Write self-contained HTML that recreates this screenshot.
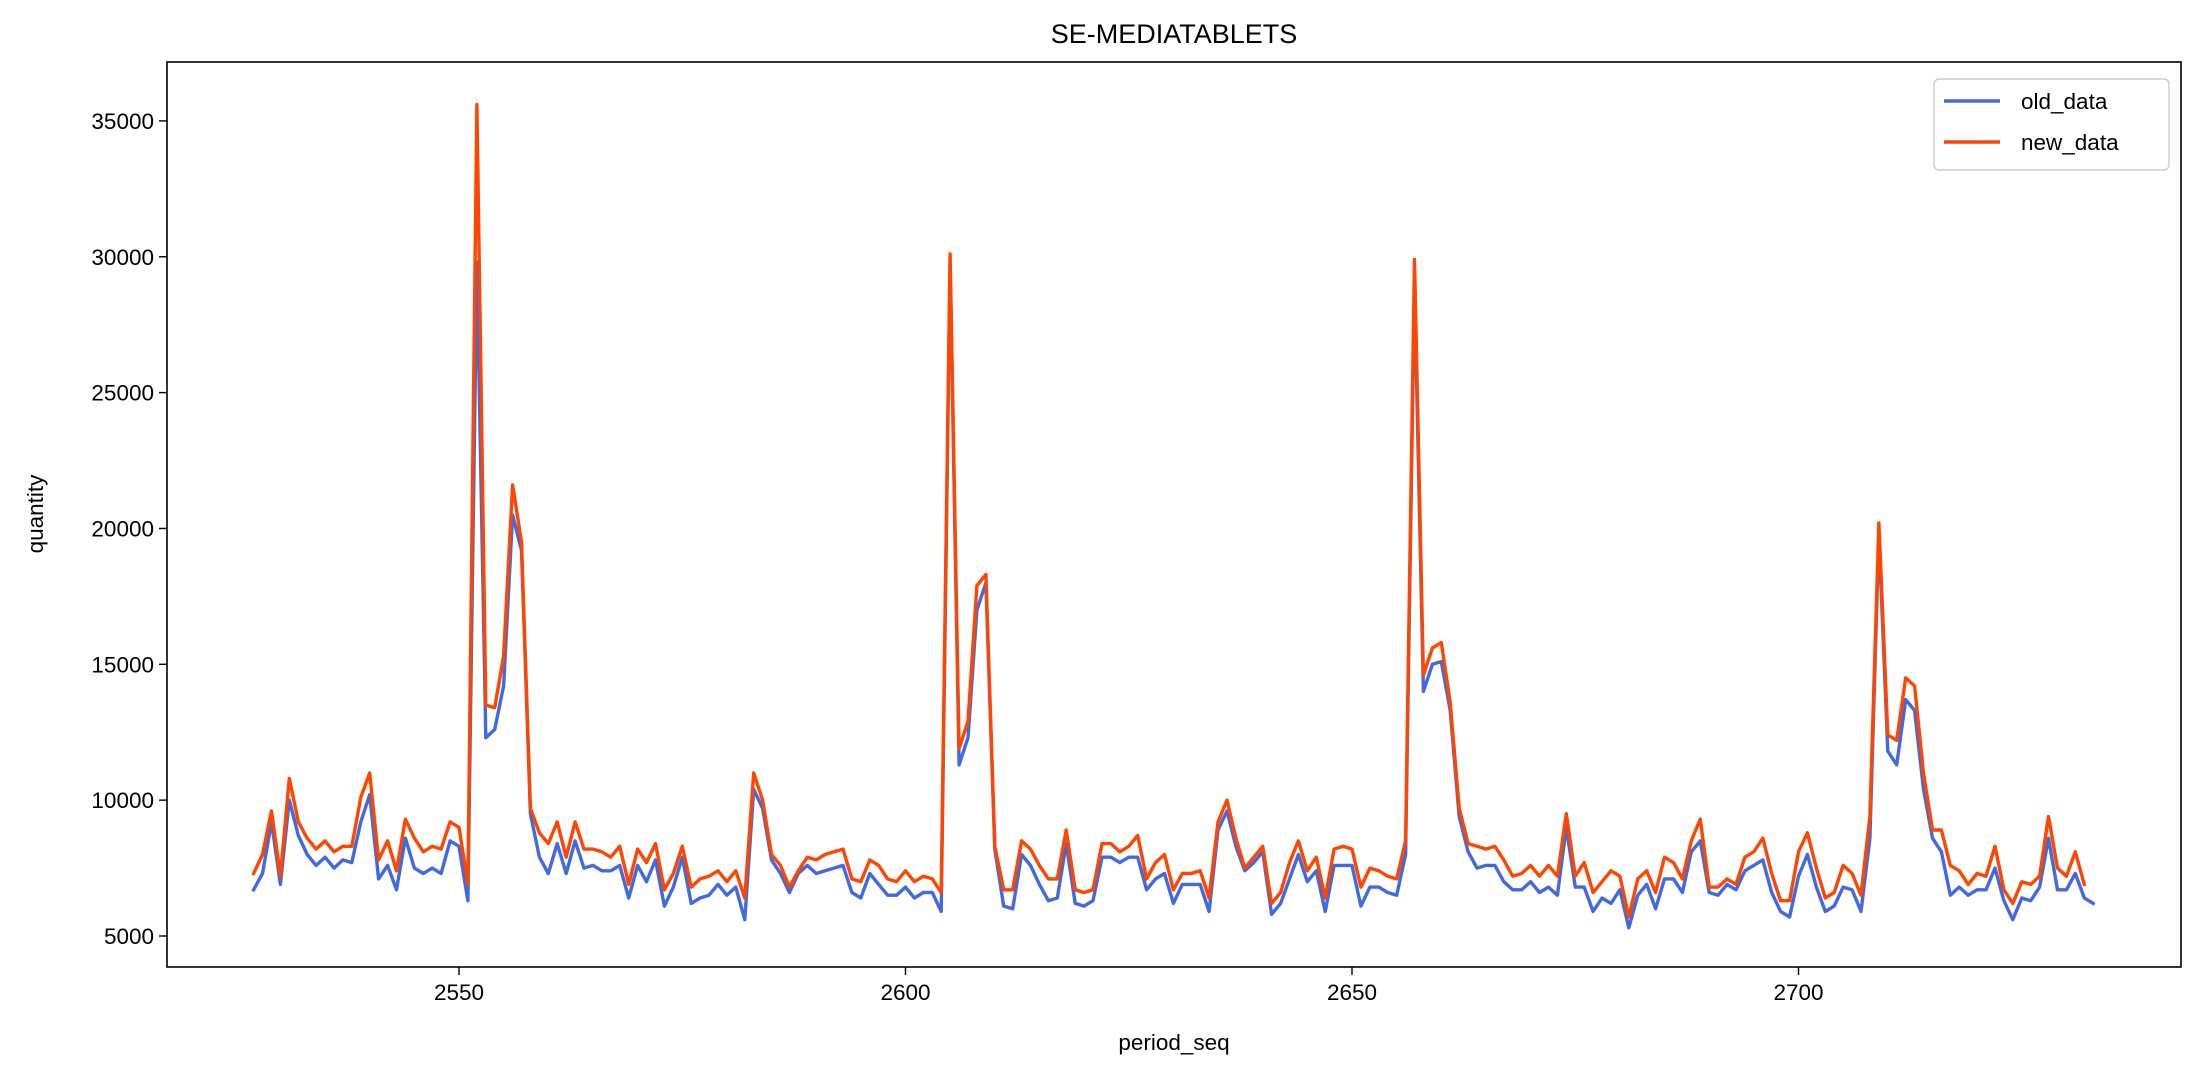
<!DOCTYPE html>
<html><head><meta charset="utf-8"><style>
body{margin:0;background:#fff}
svg{display:block}
text{font-family:"Liberation Sans",sans-serif;fill:#000}
</style></head><body>
<svg id="chart" width="2201" height="1076" xmlns="http://www.w3.org/2000/svg"></svg>
<script>
const periodStart = 2527;
const newData = [7300,8000,9600,7200,10800,9200,8600,8200,8500,8100,8300,8300,10100,11000,7800,8500,7400,9300,8600,8100,8300,8200,9200,9000,6900,35600,13500,13400,15300,21600,19500,9700,8800,8400,9200,7900,9200,8200,8200,8100,7900,8300,6900,8200,7700,8400,6700,7300,8300,6800,7100,7200,7400,7000,7400,6400,11000,10000,8000,7600,6800,7400,7900,7800,8000,8100,8200,7100,7000,7800,7600,7100,7000,7400,7000,7200,7100,6600,30100,11900,12900,17900,18300,8300,6700,6700,8500,8200,7600,7100,7100,8900,6700,6600,6700,8400,8400,8100,8300,8700,7100,7700,8000,6700,7300,7300,7400,6400,9200,10000,8600,7500,7900,8300,6200,6600,7700,8500,7400,7900,6400,8200,8300,8200,6800,7500,7400,7200,7100,8500,29900,14600,15600,15800,13600,9700,8400,8300,8200,8300,7800,7200,7300,7600,7200,7600,7200,9500,7200,7700,6600,7000,7400,7200,5700,7100,7400,6600,7900,7700,7100,8500,9300,6800,6800,7100,6900,7900,8100,8600,7300,6300,6300,8100,8800,7500,6400,6600,7600,7300,6500,9400,20200,12400,12200,14500,14200,11000,8900,8900,7600,7400,6900,7300,7200,8300,6700,6200,7000,6900,7200,9400,7500,7200,8100,6900];
const oldData = [6700,7300,9200,6900,10000,8700,8000,7600,7900,7500,7800,7700,9200,10200,7100,7600,6700,8600,7500,7300,7500,7300,8500,8300,6300,29800,12300,12600,14200,20500,19200,9500,7900,7300,8400,7300,8500,7500,7600,7400,7400,7600,6400,7600,7000,7800,6100,6800,7900,6200,6400,6500,6900,6500,6800,5600,10400,9700,7800,7300,6600,7300,7600,7300,7400,7500,7600,6600,6400,7300,6900,6500,6500,6800,6400,6600,6600,5900,29800,11300,12300,17000,18000,8200,6100,6000,8000,7600,6900,6300,6400,8400,6200,6100,6300,7900,7900,7700,7900,7900,6700,7100,7300,6200,6900,6900,6900,5900,8900,9600,8300,7400,7700,8100,5800,6200,7100,8000,7000,7400,5900,7600,7600,7600,6100,6800,6800,6600,6500,8000,29000,14000,15000,15100,13300,9400,8100,7500,7600,7600,7000,6700,6700,7000,6600,6800,6500,9000,6800,6800,5900,6400,6200,6700,5300,6500,6900,6000,7100,7100,6600,8100,8500,6600,6500,6900,6700,7400,7600,7800,6600,5900,5700,7200,8000,6800,5900,6100,6800,6700,5900,8600,19800,11800,11300,13700,13300,10400,8600,8100,6500,6800,6500,6700,6700,7500,6300,5600,6400,6300,6800,8600,6700,6700,7300,6400,6200];
const xTicks = [2550,2600,2650,2700];
const yTicks = [5000,10000,15000,20000,25000,30000,35000];

const svg = document.getElementById('chart');
const NS = 'http://www.w3.org/2000/svg';
const L=167, R=2181, T=62, B=967;
function xs(v){ return 459 + (v-2550)*8.93; }
function ys(v){ return 936 - (v-5000)*0.02717; }
function mk(tag, attrs){ const e=document.createElementNS(NS,tag); for(const k in attrs) e.setAttribute(k,attrs[k]); svg.appendChild(e); return e; }

const frame = mk('rect',{x:L,y:T,width:R-L,height:B-T,fill:'none',stroke:'#000','stroke-width':1.6});



xTicks.forEach(v=>{
  const x=xs(v);
  const t=mk('line',{x1:x,x2:x,y1:B,y2:B+8,stroke:'#000','stroke-width':1.4});
  
  
  const l=mk('text',{x:x,y:B+33,'text-anchor':'middle','font-size':22.5});
  l.textContent=v;
  
  
});
yTicks.forEach(v=>{
  const y=ys(v);
  const t=mk('line',{x1:L-8,x2:L,y1:y,y2:y,stroke:'#000','stroke-width':1.4});
  
  
  const l=mk('text',{x:L-13,y:y+8,'text-anchor':'end','font-size':22.5});
  l.textContent=v;
  
  
});

function series(data,color,name){
  const pts=data.map((v,i)=>xs(periodStart+i).toFixed(1)+','+ys(v).toFixed(1)).join(' ');
  const p=mk('polyline',{points:pts,fill:'none',stroke:color,'stroke-width':3.4,'stroke-linejoin':'round','stroke-linecap':'square'});
  
  
}
series(oldData,'#4169e1','old-data-line');
series(newData,'#ff4500','new-data-line');

const title=mk('text',{x:(L+R)/2,y:43,'text-anchor':'middle','font-size':27});
title.textContent='SE-MEDIATABLETS';


const xl=mk('text',{x:(L+R)/2,y:1050,'text-anchor':'middle','font-size':22.5});
xl.textContent='period_seq';


const yl=mk('text',{x:0,y:0,'text-anchor':'middle','font-size':22.5,transform:'translate(43,514) rotate(-90)'});
yl.textContent='quantity';



const lg=mk('rect',{x:1934,y:79,width:235,height:91,rx:5,fill:'#fff',stroke:'#ccc','stroke-width':1.4});


[['old_data','#4169e1',101],['new_data','#ff4500',142]].forEach(([n,c,y])=>{
  const ln=mk('line',{x1:1944,x2:2000,y1:y,y2:y,stroke:c,'stroke-width':3.4});
  
  
  const tx=mk('text',{x:2021,y:y+8,'font-size':22.5});
  tx.textContent=n;
  
  
});
</script>
</body></html>
